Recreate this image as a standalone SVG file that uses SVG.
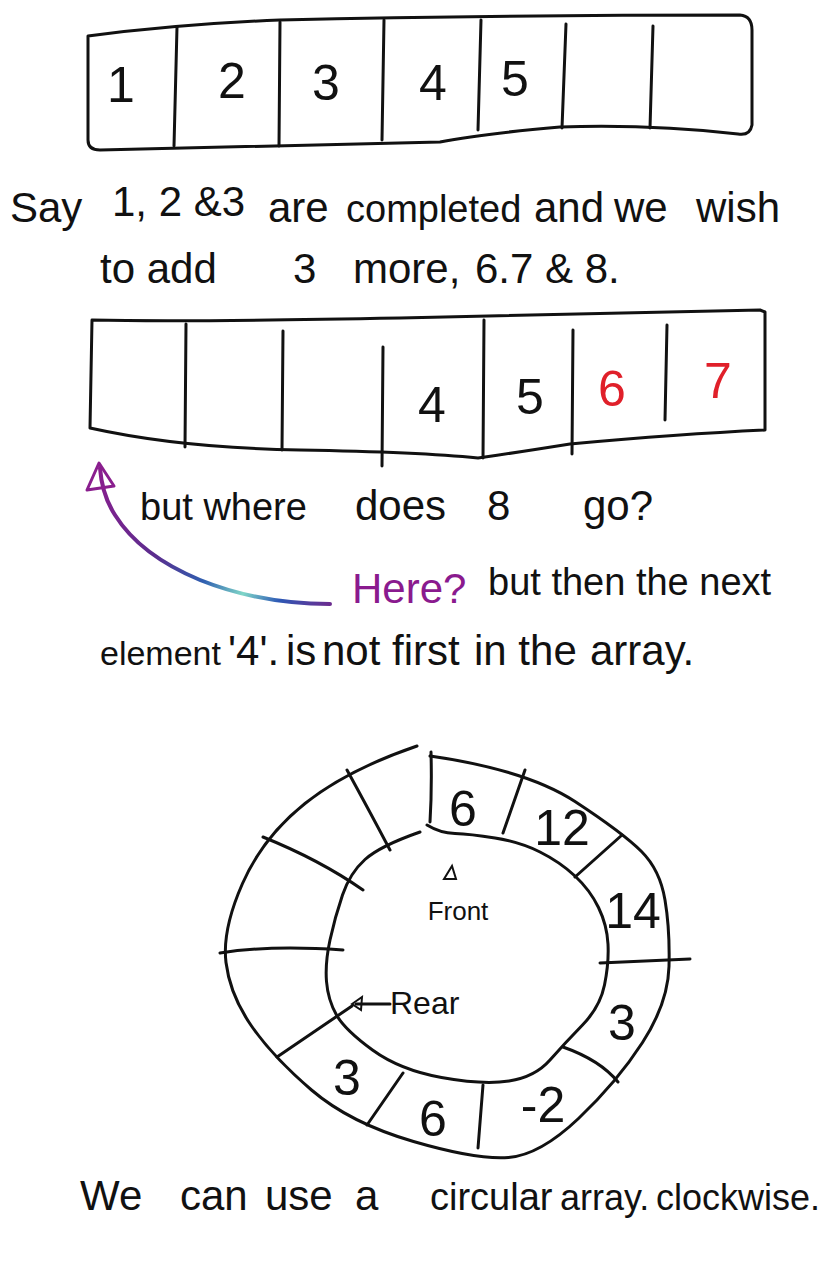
<svg xmlns="http://www.w3.org/2000/svg" width="830" height="1287" viewBox="0 0 830 1287">
<defs>
<style>
.ln{fill:none;stroke:#111;stroke-width:3;stroke-linecap:round;stroke-linejoin:round}
.t{font-family:"Liberation Sans","DejaVu Sans",sans-serif;fill:#111}
.big{font-size:42px}
.mid{font-size:38px}
.sm{font-size:36px}
.num{font-size:50px;text-anchor:middle}
.red{fill:#e0202a}
.pur{fill:#8a1a8e}
</style>
<linearGradient id="rainbow" gradientUnits="userSpaceOnUse" x1="100" y1="468" x2="330" y2="604">
<stop offset="0" stop-color="#8a1e8e"/>
<stop offset="0.35" stop-color="#5a2d8e"/>
<stop offset="0.55" stop-color="#2f5fb0"/>
<stop offset="0.7" stop-color="#7fd6c8"/>
<stop offset="0.83" stop-color="#2d58b5"/>
<stop offset="1" stop-color="#6b2c8f"/>
</linearGradient>
</defs>
<rect width="830" height="1287" fill="#fff"/>

<g id="array1">
<path class="ln" d="M88,36 Q180,24 280,20 Q500,15 740,15 Q752,16 752,30 L752,125 Q750,136 738,134 Q650,124 560,127 Q480,134 440,142 Q300,146 100,150 Q88,150 88,140 Z"/>
<path class="ln" d="M177,27 L174,146 M280,22 L279,146 M384,20 L382,140 M481,20 L478,130 M566,24 L562,128 M653,26 L650,128"/>
<text class="t num" x="121" y="102">1</text>
<text class="t num" x="232" y="98">2</text>
<text class="t num" x="326" y="100">3</text>
<text class="t num" x="433" y="100">4</text>
<text class="t num" x="515" y="96">5</text>
</g>

<g id="line1">
<text class="t big" x="10" y="222">Say</text>
<text class="t big" x="112" y="216">1, 2 &amp;3</text>
<text class="t big" x="268" y="222">are</text>
<text class="t mid" x="346" y="222">completed</text>
<text class="t big" x="534" y="222">and</text>
<text class="t big" x="614" y="222">we</text>
<text class="t big" x="696" y="222">wish</text>
</g>

<g id="line2">
<text class="t big" x="100" y="283">to add</text>
<text class="t big" x="293" y="283">3</text>
<text class="t big" x="353" y="283">more,</text>
<text class="t big" x="475" y="283">6.7 &amp; 8.</text>
</g>

<g id="array2">
<path class="ln" d="M92,320 Q185,322 400,318 Q600,314 760,310 L765,312 L765,430 Q680,434 570,444 Q520,452 485,457 M92,320 L90,428 Q180,448 300,450 Q420,452 478,458 L485,457"/>
<path class="ln" d="M186,324 L185,447 M283,331 L282,450 M383,347 L382,466 M484,320 L483,458 M573,330 L572,454 M667,325 L665,420"/>
<text class="t num" x="432" y="422">4</text>
<text class="t num" x="530" y="414">5</text>
<text class="t num red" x="612" y="406">6</text>
<text class="t num red" x="718" y="398">7</text>
</g>

<g id="line3">
<text class="t mid" x="140" y="520">but where</text>
<text class="t big" x="355" y="520">does</text>
<text class="t big" x="487" y="520">8</text>
<text class="t big" x="583" y="520">go?</text>
</g>

<g id="connectors">
<path d="M330,604 Q260,604 200,580 Q140,555 115,515 Q102,495 100,468" fill="none" stroke="url(#rainbow)" stroke-width="4" stroke-linecap="round"/>
<path d="M87,490 L99,463 L114,486 Z" fill="none" stroke="#8a1e8e" stroke-width="3" stroke-linejoin="round"/>
</g>

<g id="here">
<text class="t big pur" x="352" y="603">Here?</text>
</g>

<g id="line4">
<text class="t mid" x="488" y="595">but then the next</text>
<text class="t" x="100" y="665" font-size="34">element</text>
<text class="t big" x="228" y="665">'4'.</text>
<text class="t big" x="286" y="665">is</text>
<text class="t big" x="322" y="665">not</text>
<text class="t big" x="392" y="665">first</text>
<text class="t big" x="474" y="665">in the</text>
<text class="t big" x="590" y="665">array.</text>
</g>

<g id="ring">
<path class="ln" d="M417,746 Q347,770 305,803.5 Q263,837 242.5,883.5 Q222,930 226,962.5 Q230,995 251.5,1026 Q273,1057 311.5,1090 Q350,1123 413.5,1141.5 Q477,1160 508.5,1157.5 Q540,1155 578.5,1118.5 Q617,1082 642.5,1042.5 Q668,1003 669,966.5 Q670,930 665,900 Q660,870 641.5,851.5 Q623,833 575,801.5 Q527,770 430,756"/>
<path class="ln" d="M420,832 Q380,846 365,859.5 Q350,873 342.5,895 Q335,917 330,940 Q325,963 326.5,981.5 Q328,1000 336.5,1015 Q345,1030 372.5,1050 Q400,1070 441.5,1077.5 Q483,1085 509,1081 Q535,1077 550,1060 Q565,1043 582.5,1025 Q600,1007 604.5,985 Q609,963 608,944 Q607,925 598.5,907.5 Q590,890 575,876 Q560,862 540,852 Q520,842 495,838 Q470,834 455,833.5 Q440,833 427,825"/>
<path class="ln" d="M431,752 Q432,790 430,822"/>
<path class="ln" d="M347,770 Q370,812 390,850 M263,837 Q320,860 363,890 M220,953 Q270,945 343,950 M277,1057 L352,1006 M367,1125 L403,1073 M478,1148 L483,1085 M618,1082 Q600,1060 563,1047 M600,963 L690,959 M575,877 L622,835 M503,833 L525,770"/>
<text class="t num" x="463" y="826">6</text>
<text class="t num" x="562" y="845">12</text>
<text class="t num" x="633" y="928">14</text>
<text class="t num" x="622" y="1040">3</text>
<text class="t num" x="543" y="1122">-2</text>
<text class="t num" x="433" y="1136">6</text>
<text class="t num" x="347" y="1095">3</text>
</g>

<g id="front">
<path d="M444,879 L452,866 L456,879 Z" fill="none" stroke="#111" stroke-width="2"/>
<text class="t" x="458" y="920" font-size="26" text-anchor="middle">Front</text>
</g>

<g id="rear">
<path class="ln" d="M390,1004 L356,1004" stroke-width="2.5"/>
<path d="M352,1004 L362,997 L361,1010 Z" fill="none" stroke="#111" stroke-width="2"/>
<text class="t" x="390" y="1014" font-size="32">Rear</text>
</g>

<g id="line5">
<text class="t big" x="80" y="1210">We</text>
<text class="t big" x="180" y="1210">can</text>
<text class="t big" x="265" y="1210">use</text>
<text class="t big" x="355" y="1210">a</text>
<text class="t mid" x="430" y="1210">circular</text>
<text class="t sm" x="560" y="1210">array.</text>
<text class="t sm" x="656" y="1210">clockwise.</text>
</g>
</svg>
